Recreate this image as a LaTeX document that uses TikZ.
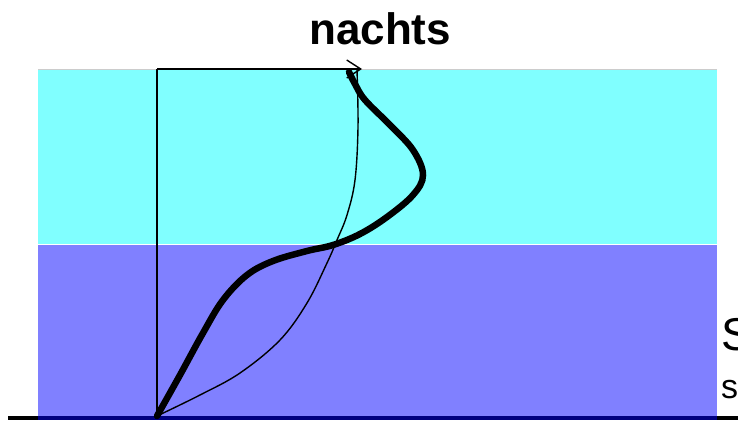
\documentclass[tikz,border=0pt]{standalone}
\usepackage{fontspec}
\setmainfont{Liberation Sans}
\usetikzlibrary{arrows.meta}

\definecolor{wasser}{HTML}{80FFFF}
\definecolor{tief}{HTML}{8080FF}
\definecolor{boden}{HTML}{000080}

\begin{document}
\begin{tikzpicture}[x=1pt, y=-1pt,
    schicht/.style={draw=white, line width=0.8pt},
    achse/.style={draw=black, line width=2.2pt},
    profil/.style={line width=6.5pt, black, line cap=round},
    vorher/.style={line width=1.4pt, black},
    txt/.style={inner sep=0pt, anchor=base west}
  ]
    \useasboundingbox (0,0) rectangle (738,420);
    \clip (0,0) rectangle (738,420);

    % Schichten
    \fill[wasser] (38,69) rectangle (717,244);
    \fill[tief] (38,244) rectangle (717,416);
    \draw[gray!40, line width=0.6pt] (38,69) -- (717,69);
    \draw[schicht] (38,244) -- (717,244);

    % Boden
    \draw[black, line width=4pt] (8,417.5) -- (738,417.5);
    \draw[boden, line width=4pt] (38,417.5) -- (717,417.5);

    % Achsen
    \coordinate (o) at (157,416);
    \coordinate (oben) at (157,69);
    \coordinate (spitze) at (362,69);
    \draw[achse] (o) -- (oben);
    \draw[line width=1.4pt, -{Straight Barb[length=14pt, width=18pt]}] (oben) -- (spitze);

    % Profile
    \draw[vorher] plot[smooth, tension=0.6] coordinates {
      (157,416) (200,395) (240,373) (280,340) (307,303) (327,263)
      (337,240) (347,215) (355,180) (358,127) (357,70)};
    \draw[profil] plot[smooth, tension=0.6] coordinates {
      (157,416) (180,375) (203,333) (223,300) (247,275) (273,261)
      (307,251) (333,245) (360,234) (387,217) (413,195) (423,175)
      (413,150) (390,125) (365,100) (355,84) (349,72)};

    % Texte
    \node[txt, font=\bfseries\fontsize{44}{48}\selectfont] (titel) at (309,45) {nachts};
    \node[txt, font=\fontsize{46}{50}\selectfont] (s1) at (721,350) {S};
    \node[txt, font=\fontsize{34}{38}\selectfont] (s2) at (721,398) {s};
  \end{tikzpicture}
\end{document}
